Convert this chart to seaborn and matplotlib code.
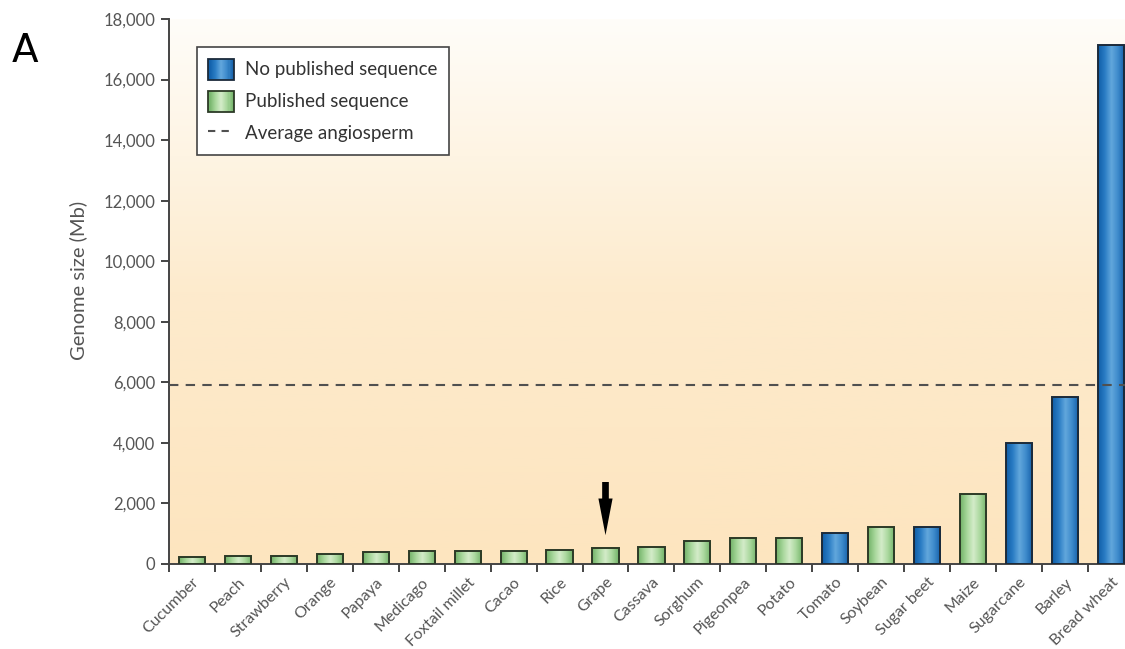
import numpy as np
import pandas as pd
import matplotlib
matplotlib.use("Agg")
import matplotlib.pyplot as plt
from matplotlib.colors import LinearSegmentedColormap, to_rgba
from matplotlib.patches import Rectangle
from matplotlib.lines import Line2D
from matplotlib.legend_handler import HandlerBase
import seaborn as sns

# Genome sizes (Mb) of crop species
crops = ["Cucumber", "Peach", "Strawberry", "Orange", "Papaya", "Medicago",
         "Foxtail millet", "Cacao", "Rice", "Grape", "Cassava", "Sorghum",
         "Pigeonpea", "Potato", "Tomato", "Soybean", "Sugar beet", "Maize",
         "Sugarcane", "Barley", "Bread wheat"]
genome_mb = [220, 265, 265, 340, 385, 430, 430, 430, 470, 515, 560, 770,
             850, 850, 1010, 1220, 1220, 2320, 4010, 5520, 17130]
status = ["Published sequence"] * 14 + ["No published sequence",
          "Published sequence", "No published sequence", "Published sequence",
          "No published sequence", "No published sequence", "No published sequence"]
average_angiosperm = 5920
highlight = "Grape"
y_ticks = list(range(0, 18001, 2000))

df = pd.DataFrame({"crop": crops, "size": genome_mb, "status": status})

BLUE = "#1f6fb8"
GREEN = "#8cc782"
palette = {"No published sequence": BLUE, "Published sequence": GREEN}

# Cylinder-like shading profiles (left -> right)
shade = {
    BLUE: ["#0f5ea8", "#2a7cc4", "#62a7dc", "#3d8acb", "#145fa8"],
    GREEN: ["#72b268", "#a6d69a", "#d4ecc9", "#a9d79d", "#72b268"],
}
edge_col = {BLUE: "#1b2a3a", GREEN: "#2c3a26"}


def shade_cmap(base):
    return LinearSegmentedColormap.from_list("s", shade[base])


sns.set_theme(style="ticks")
plt.rcParams["font.family"] = ["Lato", "DejaVu Sans"]

fig = plt.figure(figsize=(11.25, 6.49), dpi=100)
ax = fig.add_axes([169 / 1125, 85 / 649, 958 / 1125, 545 / 649])

sns.barplot(data=df, x="crop", y="size", hue="status", palette=palette,
            dodge=False, legend=False, width=0.57, order=crops, ax=ax,
            saturation=1)

# Soft vertical wash behind the bars
bg = LinearSegmentedColormap.from_list("bg", ["#fde5bf", "#fdebcd", "#fffdf9"])
ax.imshow(np.linspace(0, 1, 256).reshape(-1, 1), cmap=bg, origin="lower",
          extent=[-0.5, 20.35, 0, 18000], aspect="auto", zorder=0)

grad = np.linspace(0, 1, 64).reshape(1, -1)
for p in ax.patches:
    fc = to_rgba(p.get_facecolor())
    base = BLUE if abs(fc[2] - to_rgba(BLUE)[2]) < 0.05 else GREEN
    x0, y0 = p.get_x(), p.get_y()
    w, h = p.get_width(), p.get_height()
    im = ax.imshow(grad, cmap=shade_cmap(base), extent=[x0, x0 + w, y0, y0 + h],
                   aspect="auto", zorder=2)
    im.set_clip_path(p)
    p.set_facecolor("none")
    p.set_edgecolor(edge_col[base])
    p.set_linewidth(1.4)
    p.set_zorder(3)

ax.axhline(average_angiosperm, color="#505050", lw=1.5, ls=(0, (4.5, 3.5)), zorder=4)

gx = crops.index(highlight)
ax.annotate("", xy=(gx, 860), xytext=(gx, 2800),
            arrowprops=dict(arrowstyle="simple,head_length=2.2,head_width=0.85,tail_width=0.4",
                            color="black", lw=0), zorder=5)

ax.set_xlim(-0.5, 20.35)
ax.set_ylim(0, 18000)
ax.set_yticks(y_ticks)
ax.set_yticklabels([f"{v:,}" for v in y_ticks])
ax.set_xticks(range(len(crops)))
ax.set_xticklabels(crops, rotation=45, ha="right", rotation_mode="anchor")
ax.set_xticks(np.arange(len(crops)) - 0.5, minor=True)
ax.tick_params(axis="x", which="major", length=0, pad=8, labelsize=11.5, labelcolor="#555555")
ax.tick_params(axis="x", which="minor", length=6, width=1.4, color="#444444", direction="out")
ax.tick_params(axis="y", length=6, width=1.4, color="#444444", labelsize=12,
               labelcolor="#555555", pad=4)
ax.set_xlabel("")
ax.set_ylabel("Genome size (Mb)", fontsize=14.5, color="#555555")
ax.yaxis.set_label_coords(-0.085, 0.52)
sns.despine(ax=ax)
for s in ("left", "bottom"):
    ax.spines[s].set_color("#444444")
    ax.spines[s].set_linewidth(1.4)


class GradientHandler(HandlerBase):
    def create_artists(self, legend, orig_handle, xdescent, ydescent, width,
                       height, fontsize, trans):
        base = orig_handle.get_label()
        cmap = shade_cmap(base)
        n = 24
        arts = []
        for i in range(n):
            arts.append(Rectangle((-xdescent + width * i / n, -ydescent), width / n + 0.3,
                                  height, facecolor=cmap(i / (n - 1)), edgecolor="none",
                                  transform=trans))
        arts.append(Rectangle((-xdescent, -ydescent), width, height, facecolor="none",
                              edgecolor=edge_col[base], lw=1.3, transform=trans))
        return arts


h_blue = Rectangle((0, 0), 1, 1, label=BLUE)
h_green = Rectangle((0, 0), 1, 1, label=GREEN)
h_line = Line2D([], [], color="#505050", lw=1.5, ls=(0, (3.5, 3)))
leg = ax.legend([h_blue, h_green, h_line],
                ["No published sequence", "Published sequence", "Average angiosperm"],
                handler_map={Rectangle: GradientHandler()},
                loc="upper left", bbox_to_anchor=(0.029, 0.9486),
                fontsize=13.5, handlelength=1.35, handleheight=1.35, labelspacing=0.58,
                handletextpad=0.58, borderpad=0.62, borderaxespad=0, frameon=True,
                fancybox=False, edgecolor="#444444", framealpha=1, facecolor="white")
leg.get_frame().set_linewidth(1.2)
for t in leg.get_texts():
    t.set_color("#333333")

fig.text(12 / 1125, 1 - 62 / 649, "A", fontsize=28, family="DejaVu Sans", color="black")

fig.savefig("out.png", dpi=100)
